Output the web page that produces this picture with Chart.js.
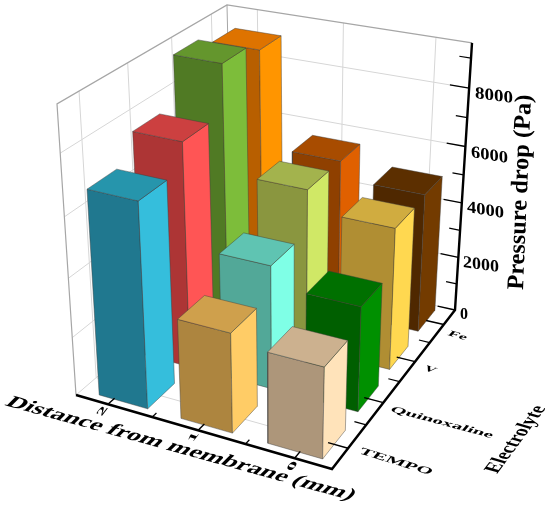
<!DOCTYPE html>
<html><head><meta charset="utf-8">
<style>html,body{margin:0;padding:0;background:#fff}canvas{display:block}</style>
<script src="https://cdn.jsdelivr.net/npm/chart.js@4"></script></head>
<body><canvas id="c" width="550" height="507"></canvas>
<script>
// ---- data ----
const distances = [2, 1, 0];
const electrolytes = ['TEMPO', 'Quinoxaline', 'V', 'Fe'];
const dist2 = [6880, 7680, 9250, 8850];
const dist1 = [3360, 4250, 5630, 5550];
const dist0 = [3050, 3600, 4950, 4950];
const zTicks = [0, 2000, 4000, 6000, 8000];
const zMinor = [1000, 3000, 5000, 7000, 9000];
const zMax = 9500;
const faceColors2 = [['#20788F','#2695AC','#35BEDC'],['#AD3535','#CC4040','#FF5555'],['#507A24','#64962D','#7DBD3A'],['#B85F00','#DE7300','#FF9500']];
const faceColors1 = [['#AD853F','#CFA04C','#FFCC66'],['#52A898','#5FC4B2','#7FFFE6'],['#8A963F','#A3B34D','#D0E866'],['#8F4000','#A84C00','#E06000']];
const faceColors0 = [['#AD967A','#CCB18F','#FFE3BA'],['#005F00','#007000','#009000'],['#B08E33','#D0AC40','#FFD850'],['#4F2800','#5C2F00','#733B00']];

// ---- projection of the 3D box on to the picture ----
const floorCorners = [[332,469],[76,395],[233,260],[455,310]];   // front, left, back, right
const topCorners   = [[339,164],[57,104],[227,5],[472,43]];
function homography(q){
  const [[x0,y0],[x1,y1],[x2,y2],[x3,y3]] = q;
  const dx1=x1-x2,dx2=x3-x2,sx=x0-x1+x2-x3,dy1=y1-y2,dy2=y3-y2,sy=y0-y1+y2-y3;
  const den=dx1*dy2-dx2*dy1, g=(sx*dy2-dx2*sy)/den, h=(dx1*sy-sx*dy1)/den;
  const a=x1-x0+g*x1,b=x3-x0+h*x3,d=y1-y0+g*y1,e=y3-y0+h*y3;
  return (s,t)=>{const w=g*s+h*t+1;return [(a*s+b*t+x0)/w,(d*s+e*t+y0)/w];};
}
const floorH=homography(floorCorners), topH=homography(topCorners);
const uMargin=0.37, barMarginLo=0.45, barMarginHi=0.52, vMargin=0.42, halfU=0.30, halfV=0.30, rowSkew=0.02;
const sAxis=u=>(u+uMargin)/(2+2*uMargin), sBar=u=>(u+barMarginLo)/(2+barMarginLo+barMarginHi), tOf=v=>(v+vMargin)/(3+2*vMargin);
const wOf=z=>{const r=z/zMax;return 0.9206*r/(1-0.0798*r);};
function project(s,t,z){
  const a=floorH(s,t),b=topH(s,t),w=wOf(z);
  return {x:a[0]+(b[0]-a[0])*w,y:a[1]+(b[1]-a[1])*w};
}
const P=(u,v,z)=>project(sAxis(u),tOf(v),z);
const Q=(u,v,z)=>project(sBar(u),tOf(v),z);
const uLo=-uMargin,uHi=2+uMargin,vLo=-vMargin,vHi=3+vMargin;

// ---- datasets ----
const datasets=[];
function line(pts,color,width){datasets.push({data:pts,showLine:true,fill:false,borderColor:color,borderWidth:width,pointRadius:0,tension:0,clip:false,order:-datasets.length});}
function face(pts,color){datasets.push({data:[...pts,pts[0]],showLine:true,fill:'shape',backgroundColor:color,borderColor:'rgba(60,60,60,0.55)',borderWidth:0.8,pointRadius:0,tension:0,clip:false,order:-datasets.length});}
const gridCol='#d6d6d6',frameCol='#a6a6a6';
distances.forEach(u=>{line([P(u,vLo,0),P(u,vHi,0),P(u,vHi,zMax)],gridCol,1);});
electrolytes.forEach((_,v)=>{line([P(uLo,v,0),P(uHi,v,0),P(uHi,v,zMax)],gridCol,1);});
zTicks.slice(1).forEach(z=>{line([P(uHi,vLo,z),P(uHi,vHi,z),P(uLo,vHi,z)],gridCol,1);});
line([P(uHi,vLo,0),P(uHi,vHi,0),P(uLo,vHi,0)],gridCol,1);
line([P(uHi,vLo,0),P(uHi,vLo,zMax),P(uHi,vHi,zMax),P(uLo,vHi,zMax)],frameCol,1.2);
line([P(uHi,vHi,0),P(uHi,vHi,zMax)],frameCol,1);

const rows=[[2,dist2,faceColors2],[1,dist1,faceColors1],[0,dist0,faceColors0]];
rows.forEach(([u,vals,cols])=>{
  for(let v=vals.length-1;v>=0;v--){
    const z=vals[v],[cF,cT,cR]=cols[v],uc=u+rowSkew*v,u0=uc-halfU,u1=uc+halfU,v0=v-halfV,v1=v+halfV;
    face([Q(u1,v0,0),Q(u0,v0,0),Q(u0,v0,z),Q(u1,v0,z)],cF);
    face([Q(u0,v0,0),Q(u0,v1,0),Q(u0,v1,z),Q(u0,v0,z)],cR);
    face([Q(u1,v0,z),Q(u0,v0,z),Q(u0,v1,z),Q(u1,v1,z)],cT);
  }
});
// axes
line([P(uHi,vLo,0),P(uLo,vLo,0),P(uLo,vHi,0),P(uLo,vHi,zMax)],'#000',2.4);
distances.forEach(u=>line([P(u,vLo,0),P(u,vLo+0.14,0)],'#000',1.4));
[1.5,0.5].forEach(u=>line([P(u,vLo,0),P(u,vLo+0.09,0)],'#000',1.2));
electrolytes.forEach((_,v)=>line([P(uLo,v,0),P(uLo+0.2,v,0)],'#000',1.4));
[0.5,1.5,2.5].forEach(v=>line([P(uLo,v,0),P(uLo+0.12,v,0)],'#000',1.2));
zTicks.forEach(z=>line([P(uLo,vHi,z),P(uLo+0.2,vHi,z)],'#000',1.4));
zMinor.forEach(z=>line([P(uLo,vHi,z),P(uLo+0.12,vHi,z)],'#000',1.2));

// ---- text ----
const serif='"Liberation Serif","Times New Roman",serif';
function putText(ctx,text,x0,y0,x1,y1,ux,uy,size){
  ctx.save();
  ctx.font='bold '+size+'px '+serif;
  const w=ctx.measureText(text).width, dx=(x1-x0)/w, dy=(y1-y0)/w;
  ctx.setTransform(dx,dy,-ux,-uy,x0,y0);
  ctx.fillStyle='#000';ctx.textBaseline='alphabetic';ctx.textAlign='left';
  ctx.fillText(text,0,0);
  ctx.restore();
}
const labels={id:'labels',afterDraw(chart){
  const c=chart.ctx;
  putText(c,'Distance from membrane (mm)',4,405,350,500,0.72,-0.72,20);
  putText(c,'Electrolyte',497,474,546,408,-1.05,-0.3,20);
  putText(c,'Pressure drop (Pa)',523,290,531,95,-1,-0.05,24);
  const zl=[[460,319,468,319],[463,267,499,272],[467,212,504,218],[471,157,508,163],[475,98,513,103]];
  zl.forEach((r,i)=>{putText(c,String(zTicks[i]),r[0],r[1],r[2],r[3],0,-1,17);});
  putText(c,electrolytes[0],358,453,430,475,0.55,-0.65,13);
  putText(c,electrolytes[1],389,411,491,438,0.55,-0.65,12);
  putText(c,electrolytes[2],423,370,434,373,0.55,-0.65,11);
  putText(c,electrolytes[3],447,335,465,340,0.55,-0.65,11);
  putText(c,String(distances[0]),101.5,416.5,108.5,407.5,-0.85,-0.3,11);
  putText(c,String(distances[1]),192.5,442.5,199.5,433.5,-0.85,-0.3,11);
  putText(c,String(distances[2]),291.5,471.5,298.5,462.5,-0.85,-0.3,11);
}};
Chart.defaults.animation=false;
new Chart(document.getElementById('c'),{
  type:'scatter',
  data:{datasets},
  plugins:[labels],
  options:{responsive:false,animation:false,layout:{padding:0},
    plugins:{legend:{display:false},tooltip:{enabled:false},title:{display:false}},
    scales:{x:{type:'linear',min:0,max:550,display:false},y:{type:'linear',min:0,max:507,reverse:true,display:false}}}
});
</script></body></html>
